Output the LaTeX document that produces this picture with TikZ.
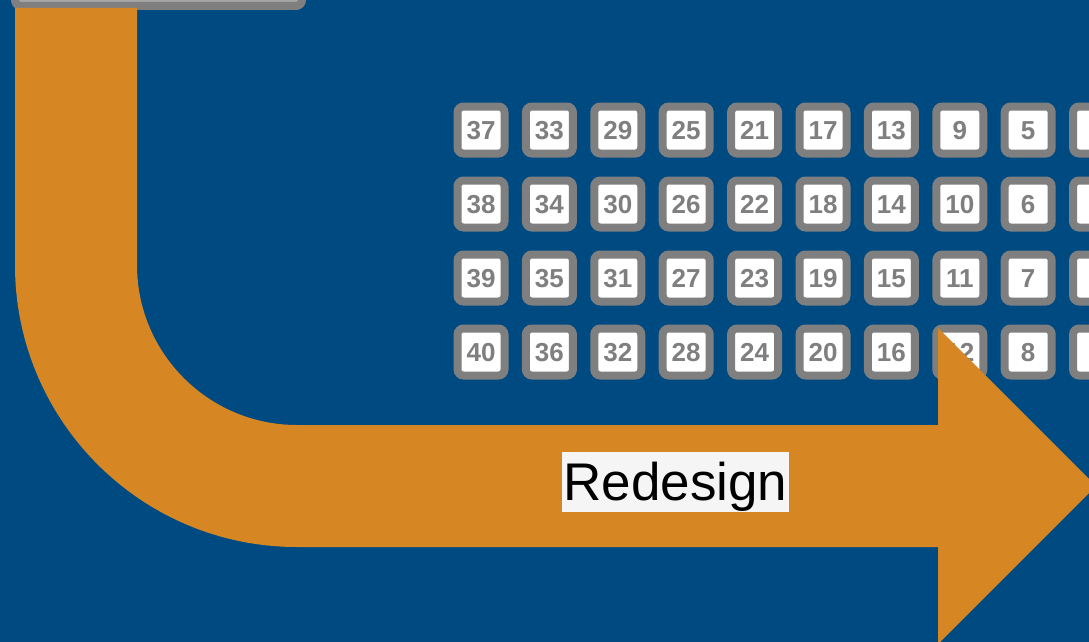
\documentclass[tikz,border=0pt]{standalone}
\usepackage{fontspec}
\setmainfont{Liberation Sans}
\definecolor{navy}{HTML}{004A82}
\definecolor{orng}{HTML}{D68723}
\definecolor{gborder}{HTML}{7F7F7F}
\definecolor{gfill}{HTML}{A6A6A6}
\definecolor{lblbg}{HTML}{F5F5F5}
\tikzset{
  seat/.style={draw=gborder, line width=8pt, fill=white, rounded corners=6pt,
    minimum width=47pt, minimum height=47pt, inner sep=0pt,
    text height=18.6pt, text depth=0pt,
    text=gborder, font=\fontsize{26}{26}\selectfont\bfseries},
  lbl/.style={fill=lblbg, inner xsep=2pt, inner ysep=1pt,
    text height=47pt, text depth=11pt,
    text=black, font=\fontsize{53}{60}\selectfont},
  topbox/.style={draw=gborder, line width=8pt, fill=gfill, rounded corners=6pt}
}
\begin{document}
\begin{tikzpicture}[x=1pt,y=1pt]
\fill[navy] (0,0) rectangle (1089,-642);
\useasboundingbox (0,0) rectangle (1089,-642);
\begin{scope}
\clip (0,0) rectangle (1089,-642);
% seats
\foreach \c in {0,...,8}{
  \foreach \r in {0,...,3}{
    \pgfmathtruncatemacro{\n}{37-4*\c+\r}
    \node[seat] (s\n) at ({481+68.4*\c},{-130-74*\r}) {\n};
  }
}
\foreach \r in {0,...,3}{
  \node[seat] (e\r) at ({481+68.4*9},{-130-74*\r}) {};
}
% top box
\draw[topbox] (15,30) rectangle (302,-6);
% orange arrow
\fill[orng] (15,-8) -- (15,-265) arc[start angle=180,end angle=270,radius=282pt]
  -- (938,-547) -- (938,-644) -- (1096,-486) -- (938,-328) -- (938,-425)
  -- (297,-425) arc[start angle=270,end angle=180,radius=160pt] -- (137,-8) -- cycle;
\end{scope}
\node[lbl, anchor=base] (redesign) at (675.5,-500) {Redesign};
\end{tikzpicture}
\end{document}
